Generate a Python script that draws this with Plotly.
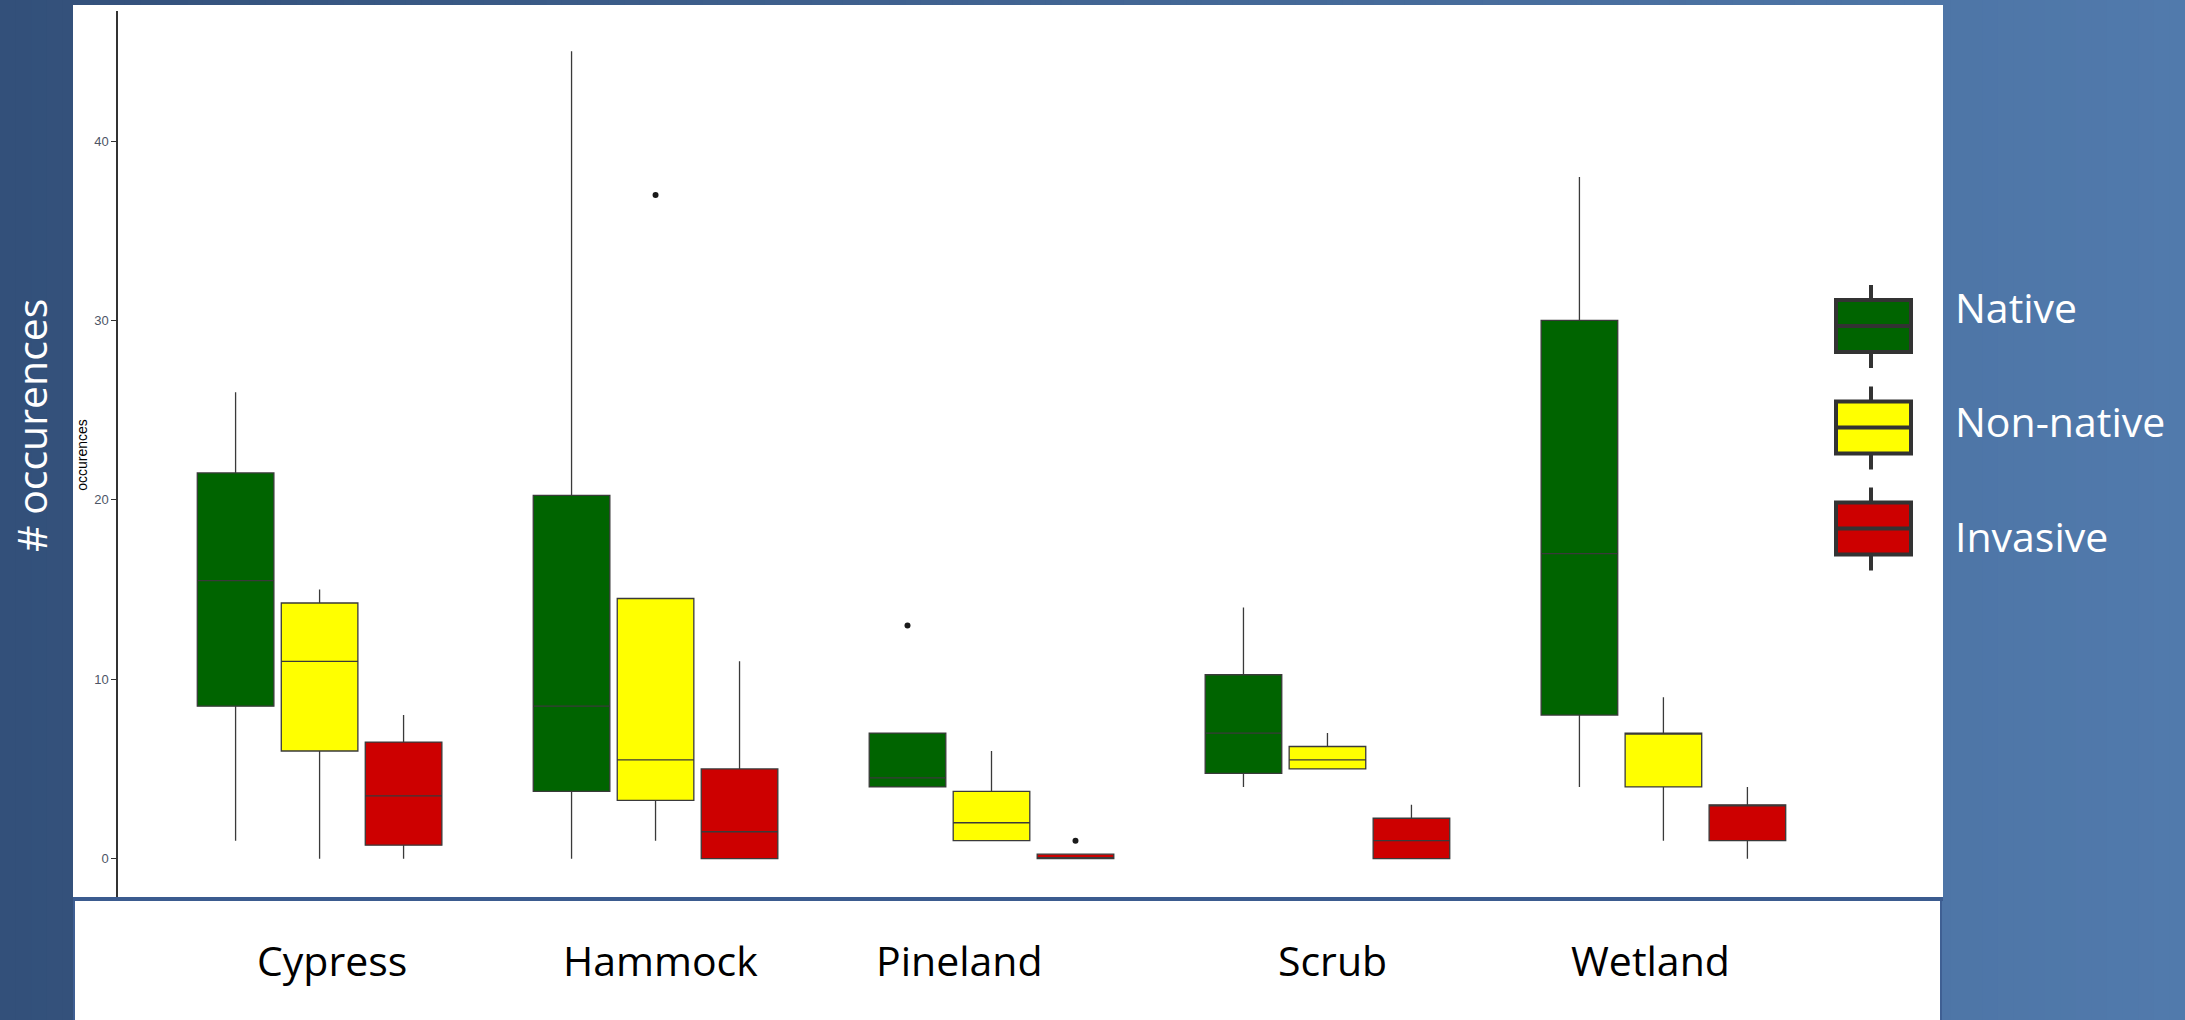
import plotly.graph_objects as go

# ---------------- data ----------------
categories = ["Cypress", "Hammock", "Pineland", "Scrub", "Wetland"]
series = ["Native", "Non-native", "Invasive"]
series_colors = ["#006400", "#FFFF00", "#CD0000"]

native_q1 = [8.5, 3.75, 4, 4.75, 8]
native_median = [15.5, 8.5, 4.5, 7, 17]
native_q3 = [21.5, 20.25, 7, 10.25, 30]
native_lower = [1, 0, 4, 4, 4]
native_upper = [26, 45, 7, 14, 38]

nonnative_q1 = [6, 3.25, 1, 5, 4]
nonnative_median = [11, 5.5, 2, 5.5, 7]
nonnative_q3 = [14.25, 14.5, 3.75, 6.25, 7]
nonnative_lower = [0, 1, 1, 5, 1]
nonnative_upper = [15, 14.5, 6, 7, 9]

invasive_q1 = [0.75, 0, 0, 0, 1]
invasive_median = [3.5, 1.5, 0, 1, 3]
invasive_q3 = [6.5, 5, 0.25, 2.25, 3]
invasive_lower = [0, 0, 0, 0, 0]
invasive_upper = [8, 11, 0.25, 3, 4]

outlier_category = ["Hammock", "Pineland", "Pineland"]
outlier_series = ["Non-native", "Native", "Invasive"]
outlier_value = [37, 13, 1]

y_ticks = [0, 10, 20, 30, 40]

# ---------------- layout geometry ----------------
W, H = 2185, 1020
L, R, T, B = 118, 1865, 11, 899  # plot area in pixels


def px(xp):
    return (xp - L) / (R - L)


def py(yp):
    return (B - yp) / (B - T)


dodge = 0.25
box_width = 0.228
offsets = [(k - 1) * dodge for k in range(len(series))]

stats = [
    (native_q1, native_median, native_q3, native_lower, native_upper),
    (nonnative_q1, nonnative_median, nonnative_q3, nonnative_lower, nonnative_upper),
    (invasive_q1, invasive_median, invasive_q3, invasive_lower, invasive_upper),
]

fig = go.Figure()
for k, name in enumerate(series):
    q1, med, q3, lo, hi = stats[k]
    xs = [i + offsets[k] for i in range(len(categories))]
    fig.add_trace(go.Box(
        x=xs, q1=q1, median=med, q3=q3, lowerfence=lo, upperfence=hi,
        width=box_width, fillcolor=series_colors[k],
        line=dict(color="#3a3a3a", width=1.3), whiskerwidth=0,
        boxpoints=False, name=name, showlegend=False, hoverinfo="skip",
    ))

ox = [categories.index(c) + offsets[series.index(s)] for c, s in zip(outlier_category, outlier_series)]
fig.add_trace(go.Scatter(
    x=ox, y=outlier_value, mode="markers",
    marker=dict(color="#1a1a1a", size=6), showlegend=False, hoverinfo="skip",
))

shapes = []
# background gradient
N = 140
c0 = (51, 80, 122)
c1 = (81, 122, 172)
for j in range(N):
    t = j / (N - 1)
    col = "rgb(%d,%d,%d)" % tuple(round(a + (b - a) * t) for a, b in zip(c0, c1))
    shapes.append(dict(type="rect", xref="paper", yref="paper",
                       x0=px(j * W / N), x1=px((j + 1) * W / N + 1),
                       y0=py(H), y1=py(0), fillcolor=col, line=dict(width=0), layer="below"))
# white upper panel
shapes.append(dict(type="rect", xref="paper", yref="paper", x0=px(73), x1=px(1943),
                   y0=py(899), y1=py(5), fillcolor="white", line=dict(width=0), layer="below"))
# lower label panel
shapes.append(dict(type="rect", xref="paper", yref="paper", x0=px(74), x1=px(1941),
                   y0=py(1022), y1=py(900), fillcolor="white",
                   line=dict(width=2, color="#3F5F93"), layer="below"))
# separator line
shapes.append(dict(type="rect", xref="paper", yref="paper", x0=px(73), x1=px(1943),
                   y0=py(901), y1=py(897), fillcolor="#3B5B8F", line=dict(width=0), layer="above"))

# custom legend keys
key_centers = [326, 427.5, 528.5]
kx0, kx1, kxc = 1836, 1911, 1871
for k, yc in enumerate(key_centers):
    shapes.append(dict(type="line", xref="paper", yref="paper", x0=px(kxc), x1=px(kxc),
                       y0=py(yc - 41), y1=py(yc - 26), line=dict(color="#333333", width=4)))
    shapes.append(dict(type="line", xref="paper", yref="paper", x0=px(kxc), x1=px(kxc),
                       y0=py(yc + 26), y1=py(yc + 42), line=dict(color="#333333", width=4)))
    shapes.append(dict(type="rect", xref="paper", yref="paper", x0=px(kx0), x1=px(kx1),
                       y0=py(yc + 26), y1=py(yc - 26), fillcolor=series_colors[k],
                       line=dict(color="#333333", width=4)))
    shapes.append(dict(type="line", xref="paper", yref="paper", x0=px(kx0), x1=px(kx1),
                       y0=py(yc), y1=py(yc), line=dict(color="#333333", width=4)))

annotations = []
label_centers = [307, 421, 536]
for k, name in enumerate(series):
    annotations.append(dict(text=name, xref="paper", yref="paper", x=px(1953), y=py(label_centers[k]),
                            xanchor="left", yanchor="middle", showarrow=False,
                            font=dict(family="Open Sans", size=41, color="white")))
# slide text boxes for category names (placed by hand on the slide)
category_label_px = [332, 660, 959, 1332, 1650]
for i, c in enumerate(categories):
    annotations.append(dict(text=c, xref="paper", yref="paper", x=px(category_label_px[i]), y=py(960),
                            xanchor="center", yanchor="middle", showarrow=False,
                            font=dict(family="Open Sans", size=41, color="black")))
annotations.append(dict(text="# occurences", xref="paper", yref="paper", x=px(31), y=py(426),
                        xanchor="center", yanchor="middle", textangle=-90, showarrow=False,
                        font=dict(family="Open Sans", size=41, color="white")))

fig.update_layout(
    width=W, height=H, autosize=False,
    margin=dict(l=L, r=W - R, t=T, b=H - B, pad=0),
    paper_bgcolor="#44669a", plot_bgcolor="rgba(0,0,0,0)",
    boxmode="overlay", shapes=shapes, annotations=annotations,
    xaxis=dict(range=[-0.6, len(categories) - 0.4], showgrid=False, zeroline=False,
               showline=False, showticklabels=False, ticks=""),
    yaxis=dict(range=[-2.25, 47.25], tickvals=y_ticks, showgrid=False, zeroline=False,
               showline=True, linecolor="#333333", linewidth=1.5,
               ticks="outside", ticklen=5, tickcolor="#333333", tickwidth=1,
               tickfont=dict(family="Liberation Sans", size=13, color="#4D5566"),
               title=dict(text="occurences", standoff=3,
                          font=dict(family="Liberation Sans", size=14, color="black"))),
    showlegend=False,
)

fig.write_html("out.html", config={"displayModeBar": False},
               post_script="document.body.style.margin='0';document.body.style.overflow='hidden';")
